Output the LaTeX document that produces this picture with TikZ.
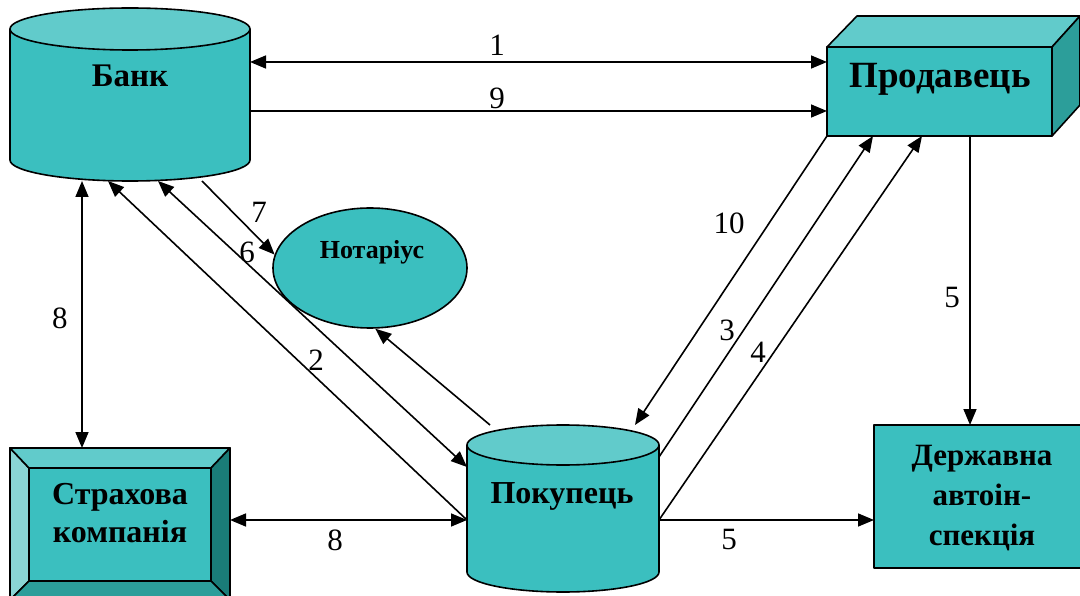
\documentclass[tikz,border=0pt]{standalone}
\usepackage{fontspec}
\setmainfont{Liberation Serif}
\usetikzlibrary{arrows.meta,calc,shapes.geometric}

\definecolor{tealbody}{RGB}{59,191,191}
\definecolor{tealtop}{RGB}{97,203,203}
\definecolor{tealside}{RGB}{44,158,154}
\definecolor{teallight}{RGB}{138,213,213}
\definecolor{tealdark}{RGB}{26,124,120}

\tikzset{
  link/.style={line width=1.6pt,-{Triangle[length=16pt,width=13pt]}},
  twoway/.style={line width=1.6pt,{Triangle[length=16pt,width=13pt]}-{Triangle[length=16pt,width=13pt]}},
  outline/.style={line width=1.6pt},
  shapebox/.style={inner sep=0pt,outer sep=0pt},
  boldtext/.style={font=\bfseries\fontsize{32}{38}\selectfont,align=center},
  numtext/.style={font=\fontsize{31}{36}\selectfont}
}

\begin{document}
\begin{tikzpicture}[x=1pt,y=-1pt,line join=round]
\useasboundingbox (0,0) rectangle (1080,596);

% Банк
\fill[tealbody] (10,29) rectangle (250,160);
\fill[tealbody] (130,160) ellipse[x radius=120,y radius=21];
\draw[outline] (10,29) -- (10,160) arc[start angle=180,end angle=0,x radius=120,y radius=21] -- (250,29);
\filldraw[outline,fill=tealtop] (130,29) ellipse[x radius=120,y radius=21];
\node[shapebox,minimum width=240pt,minimum height=174pt] (bank) at (130,94) {};
\node[boldtext,anchor=base,font=\bfseries\fontsize{33}{38}\selectfont] (bank text) at (130,87) {Банк};

% Продавець
\node[shapebox,draw,outline,fill=tealbody,minimum width=225pt,minimum height=89pt] (seller) at (939.5,91.5) {};
\filldraw[outline,fill=tealtop] (seller.north west) -- ++(30,-31) -- ++(223,0) -- (seller.north east) -- cycle;
\filldraw[outline,fill=tealside] (seller.north east) -- ++(28,-31) -- ++(0,89) -- (seller.south east) -- cycle;
\node[boldtext,anchor=base,font=\bfseries\fontsize{37}{42}\selectfont] (seller text) at (940,88) {Продавець};

% Страхова компанія
\node[shapebox,draw,outline,fill=tealbody,minimum width=220pt,minimum height=152pt] (insurer) at (120,524) {};
\node[shapebox,minimum width=182pt,minimum height=113pt] (insurer in) at (120,524.5) {};
\filldraw[outline,fill=teallight] (insurer.north west) -- (insurer in.north west) -- (insurer in.south west) -- (insurer.south west) -- cycle;
\filldraw[outline,fill=tealtop] (insurer.north west) -- (insurer.north east) -- (insurer in.north east) -- (insurer in.north west) -- cycle;
\filldraw[outline,fill=tealdark] (insurer.north east) -- (insurer.south east) -- (insurer in.south east) -- (insurer in.north east) -- cycle;
\filldraw[outline,fill=tealside] (insurer.south west) -- (insurer in.south west) -- (insurer in.south east) -- (insurer.south east) -- cycle;
\filldraw[outline,fill=tealbody] (insurer in.north west) rectangle (insurer in.south east);
\node[boldtext,anchor=base] (insurer text) at (120,542) {Страхова\\компанія};

% Покупець
\fill[tealbody] (467,445) rectangle (659,572);
\fill[tealbody] (563,572) ellipse[x radius=96,y radius=20];
\draw[outline] (467,445) -- (467,572) arc[start angle=180,end angle=0,x radius=96,y radius=20] -- (659,445);
\filldraw[outline,fill=tealtop] (563,445) ellipse[x radius=96,y radius=20];
\node[shapebox,minimum width=192pt,minimum height=167pt] (buyer) at (563,508.5) {};
\node[boldtext,anchor=base] (buyer text) at (562,503) {Покупець};

% Державна автоінспекція
\node[shapebox,draw,outline,fill=tealbody,minimum width=216pt,minimum height=143pt] (inspect) at (982,496.5) {};
\node[boldtext,anchor=base,font=\bfseries\fontsize{31}{40}\selectfont] (inspect text) at (982,545) {Державна\\автоін-\\спекція};

% Нотаріус
\node[ellipse,draw,outline,fill=tealbody,minimum width=194pt,minimum height=120pt,inner sep=0pt] (notary) at (370,268) {};
\node[boldtext,anchor=base,font=\bfseries\fontsize{26}{30}\selectfont] (notary text) at (372,259) {Нотаріус};

% зв'язки
\draw[twoway] (bank.east |- 0,62) -- (seller.west |- 0,62);
\draw[link] (bank.east |- 0,111) -- (seller.west |- 0,111);
\draw[twoway] (bank.south -| 82,0) -- (insurer.north -| 82,0);
\draw[twoway] (insurer.east |- 0,520) -- (buyer.west |- 0,520);
\draw[link] (buyer.east |- 0,520) -- (inspect.west |- 0,520);
\draw[link] (seller.south -| 970,0) -- (inspect.north -| 970,0);
\draw[link] (buyer.west |- 0,520) -- (bank.south -| 108,0);
\draw[twoway] (bank.south -| 158,0) -- (buyer.west |- 0,467);
\draw[link] (bank.south -| 202,0) -- (notary.172);
\draw[link] (buyer.north -| 490,0) -- (notary.-85);
\draw[link] (seller.south west) -- (buyer.north -| 635,0);
\draw[link] (buyer.east |- 0,457) -- (seller.south -| 873,0);
\draw[link] (buyer.east |- 0,520) -- (seller.south -| 922,0);

% номери
\node[numtext] (n1) at (497,45) {1};
\node[numtext] (n9) at (497,98) {9};
\node[numtext] (n8a) at (60,318) {8};
\node[numtext] (n8b) at (335,540) {8};
\node[numtext] (n5a) at (729,540) {5};
\node[numtext] (n5b) at (952,298) {5};
\node[numtext] (n2) at (316,360) {2};
\node[numtext] (n6) at (247,252) {6};
\node[numtext] (n7) at (259,212) {7};
\node[numtext] (n10) at (729,223) {10};
\node[numtext] (n3) at (727,330) {3};
\node[numtext] (n4) at (758,352) {4};
\end{tikzpicture}
\end{document}
